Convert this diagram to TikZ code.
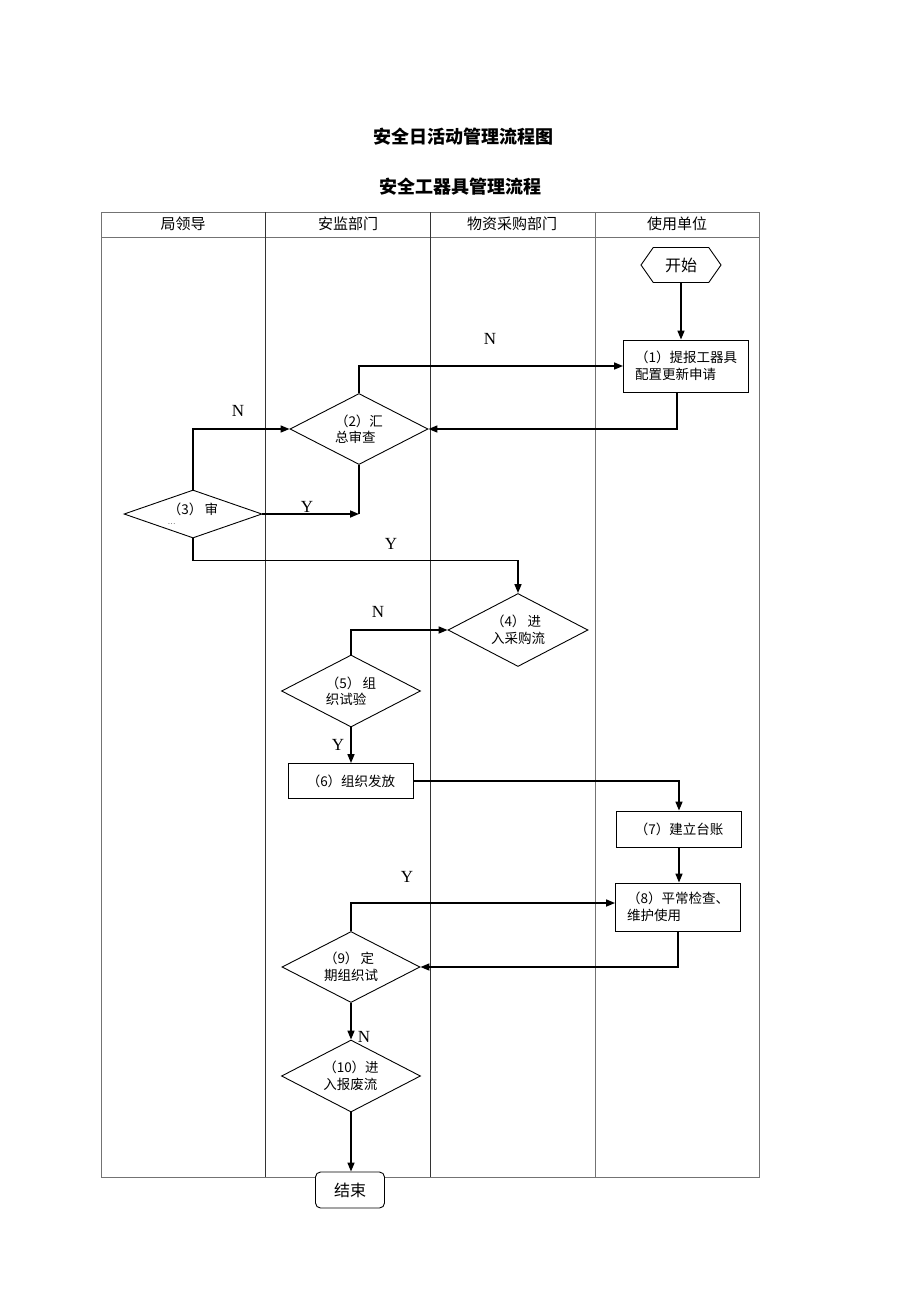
\documentclass[tikz,border=0pt]{standalone}
\usepackage{fontspec}
\setmainfont{Liberation Serif}
\newfontfamily\cjk{Noto Sans CJK SC}
\usetikzlibrary{shapes.geometric,shapes.symbols,arrows.meta}

\begin{document}
\begin{tikzpicture}[
    x=1pt, y=-1pt,
    every node/.style={font=\cjk\fontsize{13.5}{16.5}\selectfont},
    lane/.style={draw=black!55, line width=0.9pt},
    stepbox/.style={draw, line width=0.9pt, minimum width=125pt, align=left, inner sep=2pt},
    decide/.style={diamond, draw, line width=0.9pt, aspect=2, inner sep=0pt, minimum width=138pt, minimum height=71pt, align=left},
    flow/.style={line width=1.6pt, -{Triangle[length=9pt,width=7pt]}},
    yn/.style={font=\fontsize{17}{17}\selectfont},
    head/.style={font=\cjk\fontsize{15}{15}\selectfont},
    titletext/.style={font=\cjk\bfseries\fontsize{18}{18}\selectfont}
]
\useasboundingbox (0,0) rectangle (920,1302);

% titles
\node[titletext] (title) at (463,137) {安全日活动管理流程图};
\node[titletext] (subtitle) at (460,187) {安全工器具管理流程};

% lanes
\draw[lane] (101,212) rectangle (759,1177);
\draw[lane] (101,237) -- (759,237);
\foreach \x in {265,430}
    \draw[lane, draw=black!80] (\x,212) -- (\x,1177);
\draw[lane] (595,212) -- (595,1177);
\node[head] (h1) at (183,224) {局领导};
\node[head] (h2) at (348,224) {安监部门};
\node[head] (h3) at (512,224) {物资采购部门};
\node[head] (h4) at (677,224) {使用单位};

% steps
\node[draw, signal, signal to=east and west, signal pointer angle=110,
      minimum width=80pt, minimum height=35pt, line width=0.9pt,
      font=\cjk\fontsize{16}{16}\selectfont] (start) at (681,265) {开始};
\node[stepbox, minimum height=52pt] (s1) at (686,366) {（1）提报工器具\\配置更新申请};
\node[decide] (d2) at (359,429) {（2）汇\\总审查};
\node[decide, minimum height=48pt] (d3) at (193,514) {（3）\,审\\[-7pt]{\fontsize{7}{7}\selectfont …}};
\node[decide, minimum width=140pt, minimum height=73pt] (d4) at (518,630) {（4）\,进\\入采购流};
\node[decide, minimum width=139pt, minimum height=72pt] (d5) at (351,691) {（5）\,组\\织试验};
\node[stepbox, minimum height=35pt] (s6) at (351,781) {（6）组织发放};
\node[stepbox, minimum height=36pt] (s7) at (679,829) {（7）建立台账};
\node[stepbox, minimum height=48pt] (s8) at (678,907) {（8）平常检查、\\维护使用};
\node[decide] (d9) at (351,967) {（9）\,定\\期组织试};
\node[decide, minimum width=139pt, minimum height=72pt] (d10) at (351,1076) {（10）进\\入报废流};
\node[draw, fill=white, rounded corners=5pt, line width=0.9pt, minimum width=69pt, minimum height=36pt,
      font=\cjk\fontsize{16}{16}\selectfont] (stop) at (350,1190) {结束};

% connectors
\draw[flow] (start.south) -- (start.south |- s1.north);
\draw[flow] ([xshift=-9pt]s1.south) |- (d2.east);
\draw[flow] (d2.north) |- (s1.west);
\node[yn] (n1) at (490,339) {N};
\draw[flow] (d3.north) |- (d2.west);
\node[yn] (n2) at (238,411) {N};
\draw[line width=1.6pt] (d2.south) -- (d2.south |- d3.east) coordinate (j23);
\draw[flow] (d3.east) -- (j23);
\node[yn] (y1) at (307,507) {Y};
\draw[flow] (d3.south) -- ++(0,22) -| (d4.north);
\node[yn] (y2) at (391,544) {Y};
\draw[flow] (d5.north) |- (d4.west);
\node[yn] (n3) at (378,612) {N};
\draw[flow] (d5) -- (s6);
\node[yn] (y3) at (338,745) {Y};
\draw[flow] (s6.east) -| (s7.north);
\draw[flow] (s7.south) -- (s7.south |- s8.north);
\draw[flow] (s8.south) |- (d9.east);
\draw[flow] (d9.north) |- ([yshift=4pt]s8.west);
\node[yn] (y4) at (407,877) {Y};
\draw[flow] (d9) -- (d10);
\node[yn] (n4) at (364,1037) {N};
\draw[flow] (d10) -- (d10 |- stop.north);
\end{tikzpicture}
\end{document}
